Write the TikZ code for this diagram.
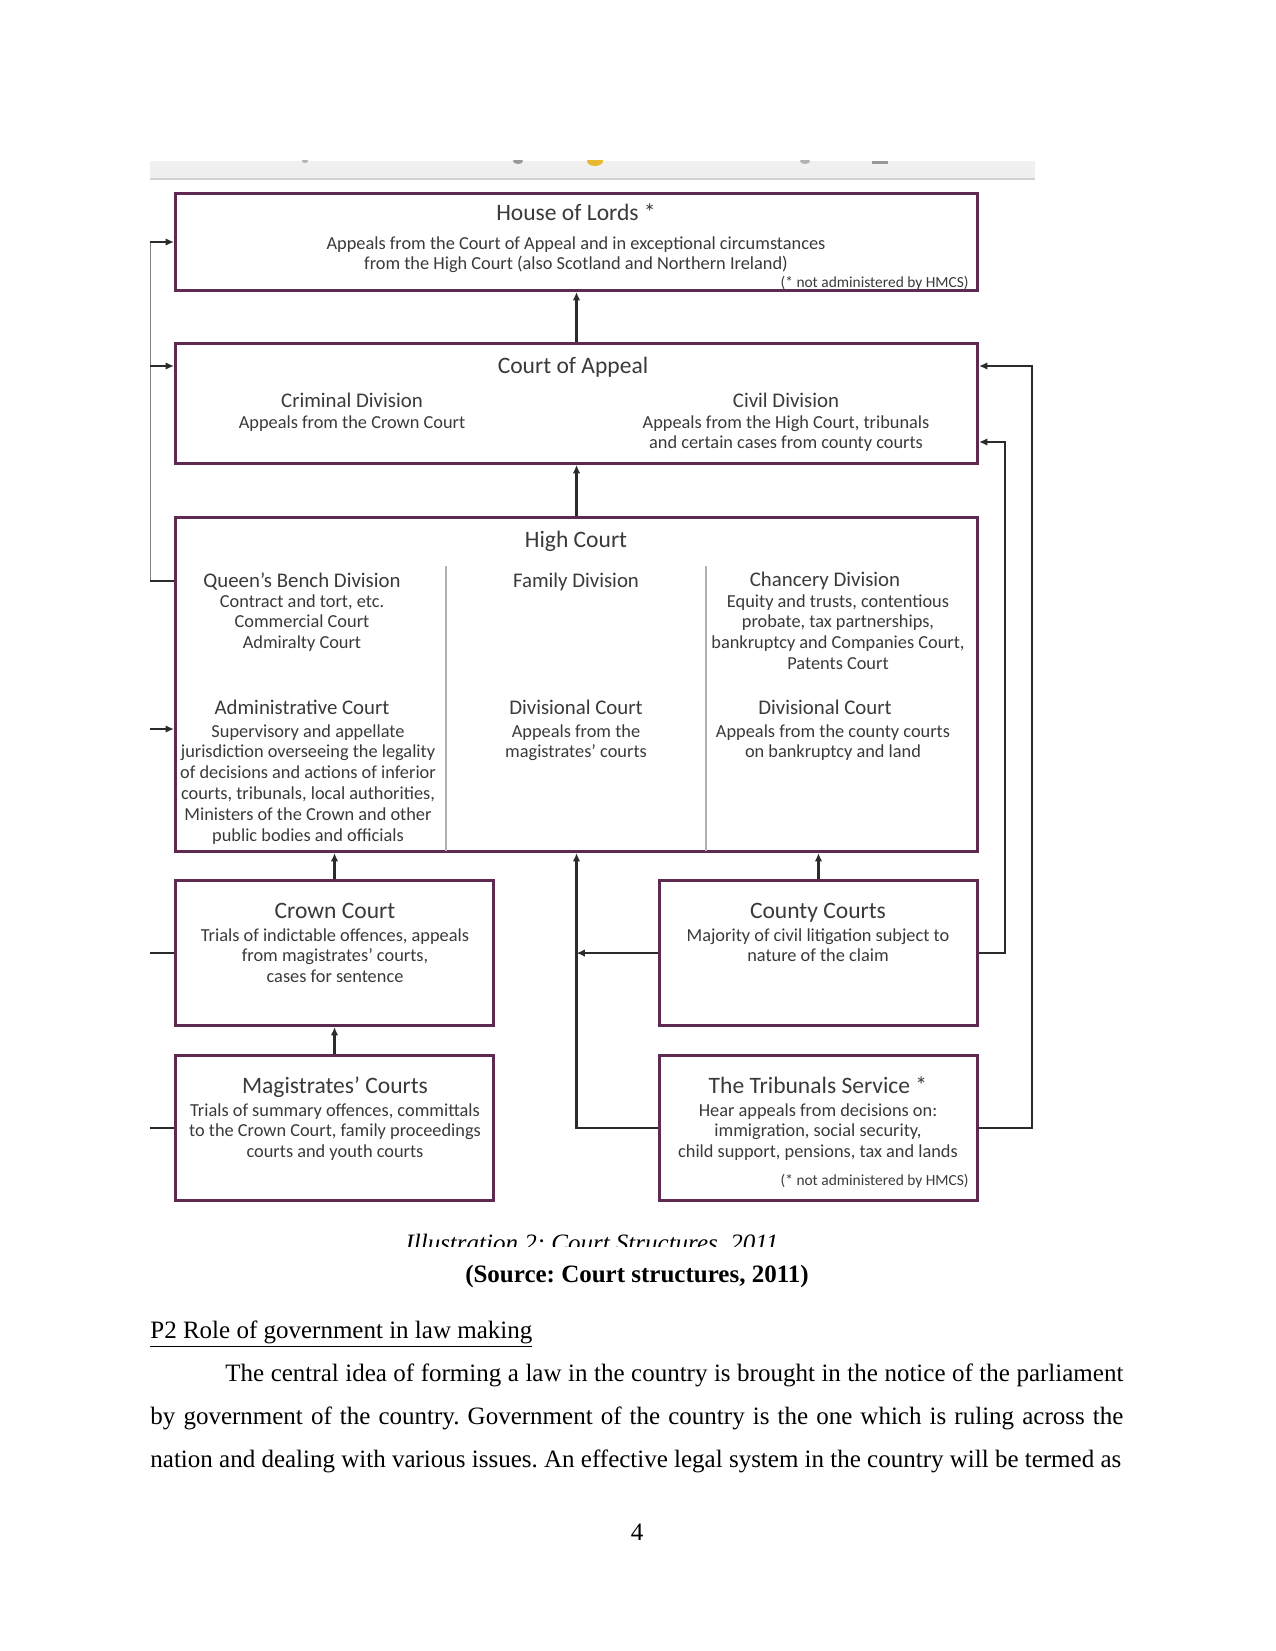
\documentclass[tikz,border=0pt]{standalone}
\usepackage{fontspec}
\setmainfont{Liberation Serif}
\newfontfamily\fuenteCaja{Carlito}
\usetikzlibrary{arrows.meta, positioning, calc}
\frenchspacing
\definecolor{ciruela}{HTML}{5E2A52}
\definecolor{grisoscuro}{HTML}{3A3A3A}
\definecolor{grislinea}{HTML}{2B2B2B}
\definecolor{amarillo}{HTML}{E8B830}
\colorlet{colBorde}{ciruela}
\colorlet{colTexto}{grisoscuro}
\colorlet{colLinea}{grislinea}
\tikzset{
  cajaBase/.style={draw=colBorde, line width=1.4pt, inner sep=0pt, fill=white},
  cajaAncha/.style={cajaBase, minimum width=385pt},
  cajaBaja/.style={cajaBase, minimum width=152.7pt, minimum height=69.6pt},
  titulo/.style={anchor=north, inner sep=0pt, text=colTexto,
    font=\fuenteCaja\fontsize{11.3}{13}\selectfont},
  subtitulo/.style={titulo, font=\fuenteCaja\fontsize{10}{12}\selectfont},
  textoCaja/.style={anchor=north, inner sep=0pt, align=center, text=colTexto,
    font=\fuenteCaja\fontsize{8.8}{10}\selectfont},
  notaCaja/.style={anchor=north east, inner sep=0pt, text=colTexto,
    font=\fuenteCaja\fontsize{7.4}{8}\selectfont},
  flecha/.style={-{Latex[length=4pt, width=3.6pt]}, line width=1pt, colLinea},
  linea/.style={line width=1pt, colLinea},
  lineaFina/.style={line width=0.4pt, gray},
  divisor/.style={line width=0.8pt, gray!60},
  textoPagina/.style={inner sep=0pt, font=\fontsize{12}{14}\selectfont},
}

\begin{document}
\begin{tikzpicture}[x=0.48pt, y=-0.48pt]
  \useasboundingbox (0,0) rectangle (1275,1651);
  % barra gris de la captura
  \fill[gray!12] (150,161) rectangle (1035,179);
  \draw[gray!35, line width=0.8pt] (150,179) -- (1035,179);
  \begin{scope}
    \clip (150,161) rectangle (1035,179);
    \fill[gray!60] (305,161) ellipse (3 and 2);
    \fill[gray!80] (518,161) ellipse (5 and 3);
    \fill[amarillo] (595,161) ellipse (8 and 5);
    \fill[gray!60] (805,161) ellipse (5 and 3);
    \fill[gray!80] (872,161) rectangle (888,164);
  \end{scope}

  % cajas
  \node[cajaAncha, minimum height=46.6pt] (lords) at (576.5,242) {};
  \node[cajaAncha, minimum height=57.6pt, below=24pt of lords] (apelacion) {};
  \node[cajaAncha, minimum height=160.4pt, below=24.5pt of apelacion] (alta) {};
  \node[cajaBaja, below=12.5pt of alta.south west, anchor=north west] (corona) {};
  \node[cajaBaja, below=12.5pt of alta.south east, anchor=north east] (condado) {};
  \node[cajaBaja, below=13pt of corona] (magistrados) {};
  \node[cajaBaja, below=13pt of condado] (tribunales) {};

  % House of Lords
  \node[titulo] (lordsTit) at (576,203) {House of Lords *};
  \node[textoCaja] (lordsTxt) at (576,236) {Appeals from the Court of Appeal and in exceptional circumstances\\
    from the High Court (also Scotland and Northern Ireland)};
  \node[notaCaja] (lordsNota) at (969,276) {(* not administered by HMCS)};

  % Court of Appeal
  \node[titulo] (apelTit) at (573,357) {Court of Appeal};
  \node[subtitulo] (penalTit) at (352,393) {Criminal Division};
  \node[textoCaja] (penalTxt) at (352,415) {Appeals from the Crown Court};
  \node[subtitulo] (civilTit) at (786,393) {Civil Division};
  \node[textoCaja] (civilTxt) at (786,415) {Appeals from the High Court, tribunals\\
    and certain cases from county courts};

  % High Court
  \node[titulo] (altaTit) at (576,531) {High Court};
  \draw[divisor] (446,566) -- (446,851);
  \draw[divisor] (706,566) -- (706,851);
  \node[subtitulo] (reinaTit) at (302,572) {Queen’s Bench Division};
  \node[textoCaja] (reinaTxt) at (302,594) {Contract and tort, etc.\\Commercial Court\\Admiralty Court};
  \node[subtitulo] (adminTit) at (302,700) {Administrative Court};
  \node[textoCaja] (adminTxt) at (308,724) {Supervisory and appellate\\
    jurisdiction overseeing the legality\\of decisions and actions of inferior\\
    courts, tribunals, local authorities,\\Ministers of the Crown and other\\
    public bodies and officials};
  \node[subtitulo] (familiaTit) at (576,573) {Family Division};
  \node[subtitulo] (famDivTit) at (576,700) {Divisional Court};
  \node[textoCaja] (famDivTxt) at (576,724) {Appeals from the\\magistrates’ courts};
  \node[subtitulo] (cancTit) at (825,572) {Chancery Division};
  \node[textoCaja] (cancTxt) at (838,594) {Equity and trusts, contentious\\
    probate, tax partnerships,\\bankruptcy and Companies Court,\\Patents Court};
  \node[subtitulo] (cancDivTit) at (825,700) {Divisional Court};
  \node[textoCaja] (cancDivTxt) at (833,724) {Appeals from the county courts\\on bankruptcy and land};

  % tribunales inferiores
  \node[titulo] (coronaTit) at (335,903) {Crown Court};
  \node[textoCaja] (coronaTxt) at (335,928) {Trials of indictable offences, appeals\\
    from magistrates’ courts,\\cases for sentence};
  \node[titulo] (condadoTit) at (818,903) {County Courts};
  \node[textoCaja] (condadoTxt) at (818,928) {Majority of civil litigation subject to\\nature of the claim};
  \node[titulo] (magTit) at (335,1076) {Magistrates’ Courts};
  \node[textoCaja] (magTxt) at (335,1103) {Trials of summary offences, committals\\
    to the Crown Court, family proceedings\\courts and youth courts};
  \node[titulo] (tribTit) at (818,1076) {The Tribunals Service *};
  \node[textoCaja] (tribTxt) at (818,1103) {Hear appeals from decisions on:\\
    immigration, social security,\\child support, pensions, tax and lands};
  \node[notaCaja] (tribNota) at (969,1174) {(* not administered by HMCS)};

  % conectores centrales
  \draw[flecha] (apelacion.north) -- (lords.south);
  \draw[flecha] (alta.north) -- (apelacion.south);
  \draw[flecha] (corona.north) -- (corona.north |- alta.south);
  \draw[flecha] (condado.north) -- (condado.north |- alta.south);
  \draw[flecha] (magistrados.north) -- (corona.south);
  \draw[flecha] (tribunales.west) -| (alta.south);
  \draw[flecha] (condado.west) -- (condado.west -| alta.south);

  % conectores derechos
  \coordinate (derInt) at (1005,442);
  \coordinate (derExt) at (1032,366);
  \draw[flecha] (condado.east) -| (derInt) -- (derInt -| apelacion.east);
  \draw[flecha] (tribunales.east) -| (derExt) -- (derExt -| apelacion.east);

  % conectores izquierdos
  \coordinate (bordeIzq) at (150,0);
  \coordinate (izqLords) at (150,242);
  \coordinate (izqApel) at (150,366);
  \coordinate (izqAlta) at (150,581);
  \coordinate (izqAdmin) at (150,729);
  \draw[lineaFina] (izqLords) -- (izqAlta);
  \draw[flecha] (izqLords) -- (izqLords -| lords.west);
  \draw[flecha] (izqApel) -- (izqApel -| apelacion.west);
  \draw[linea] (izqAlta) -- (izqAlta -| alta.west);
  \draw[flecha] (izqAdmin) -- (izqAdmin -| alta.west);
  \draw[linea] (corona.west -| bordeIzq) -- (corona.west);
  \draw[linea] (magistrados.west -| bordeIzq) -- (magistrados.west);

  % leyenda cortada
  \begin{scope}
    \clip (150,1225) rectangle (1035,1246);
    \node[textoPagina, anchor=base, font=\itshape\fontsize{12}{14}\selectfont] (leyenda) at (592,1251)
      {Illustration 2: Court Structures, 2011};
  \end{scope}

  % texto de la pagina
  \node[textoPagina, anchor=base, font=\bfseries\fontsize{12}{14}\selectfont] (fuente) at (637,1282)
    {(Source: Court structures, 2011)};
  \node[textoPagina, anchor=base west] (seccion) at (150,1338) {\underline{P2 Role of government in law making}};
  \node[textoPagina, anchor=base west, text width=467pt, align=justify,
        font=\fontsize{12}{20.7}\selectfont] (parrafo) at (150,1381)
    {\parfillskip=0pt\hspace*{36pt}The central idea of forming a law in the country is brought in the notice of the parliament\linebreak
     by government of the country. Government of the country is the one which is ruling across the\linebreak
     nation and dealing with various issues. An effective legal system in the country will be termed as};
  \node[textoPagina, anchor=base] (pagina) at (637,1540) {4};
\end{tikzpicture}
\end{document}
